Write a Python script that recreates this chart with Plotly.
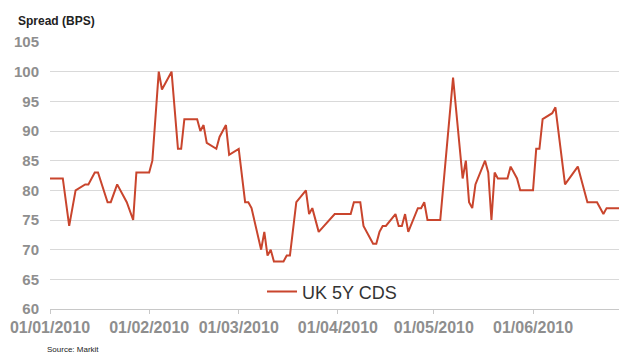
import plotly.graph_objects as go

dates = [
    "2010-01-01", "2010-01-05", "2010-01-07", "2010-01-09", "2010-01-12", "2010-01-13",
    "2010-01-15", "2010-01-16", "2010-01-19", "2010-01-20", "2010-01-22", "2010-01-25",
    "2010-01-27", "2010-01-28", "2010-02-01", "2010-02-02", "2010-02-04", "2010-02-05",
    "2010-02-08", "2010-02-10", "2010-02-11", "2010-02-12", "2010-02-16", "2010-02-17",
    "2010-02-18", "2010-02-19", "2010-02-22", "2010-02-23", "2010-02-25", "2010-02-26",
    "2010-03-01", "2010-03-03", "2010-03-04", "2010-03-05", "2010-03-08", "2010-03-09",
    "2010-03-10", "2010-03-11", "2010-03-12", "2010-03-15", "2010-03-16", "2010-03-17",
    "2010-03-19", "2010-03-22", "2010-03-23", "2010-03-24", "2010-03-26", "2010-03-31",
    "2010-04-05", "2010-04-06", "2010-04-08", "2010-04-09", "2010-04-12", "2010-04-13",
    "2010-04-14", "2010-04-15", "2010-04-16", "2010-04-19", "2010-04-20", "2010-04-21",
    "2010-04-22", "2010-04-23", "2010-04-26", "2010-04-27", "2010-04-28", "2010-04-29",
    "2010-05-03", "2010-05-07", "2010-05-10", "2010-05-11", "2010-05-12", "2010-05-13",
    "2010-05-14", "2010-05-17", "2010-05-18", "2010-05-19", "2010-05-20", "2010-05-21",
    "2010-05-24", "2010-05-25", "2010-05-27", "2010-05-28", "2010-06-01", "2010-06-02",
    "2010-06-03", "2010-06-04", "2010-06-07", "2010-06-08", "2010-06-11", "2010-06-15",
    "2010-06-18", "2010-06-21", "2010-06-23", "2010-06-24", "2010-06-28",
]
spread = [
    82, 82, 74, 80, 81, 81,
    83, 83, 78, 78, 81, 78,
    75, 83, 83, 85, 100, 97,
    100, 87, 87, 92, 92, 90,
    91, 88, 87, 89, 91, 86,
    87, 78, 78, 77, 70, 73,
    69, 70, 68, 68, 69, 69,
    78, 80, 76, 77, 73, 76,
    76, 78, 78, 74, 71, 71,
    73, 74, 74, 76, 74, 74,
    76, 73, 77, 77, 78, 75,
    75, 99, 82, 85, 78, 77,
    81, 85, 83, 75, 83, 82,
    82, 84, 82, 80, 80, 87,
    87, 92, 93, 94, 81, 84,
    78, 78, 76, 77, 77,
]
tick_dates = ["2010-01-01", "2010-02-01", "2010-03-01", "2010-04-01", "2010-05-01", "2010-06-01"]
tick_labels = ["01/01/2010", "01/02/2010", "01/03/2010", "01/04/2010", "01/05/2010", "01/06/2010"]
y_ticks = [60, 65, 70, 75, 80, 85, 90, 95, 100, 105]

FONT = "Liberation Sans, Arial, sans-serif"
RED = "#C9452D"

fig = go.Figure()
fig.add_trace(go.Scatter(
    x=dates, y=spread, mode="lines", name="UK 5Y CDS",
    line=dict(color=RED, width=2),
))

fig.update_layout(
    width=619, height=354,
    margin=dict(l=50, r=0, t=42, b=45),
    paper_bgcolor="white", plot_bgcolor="white",
    font=dict(family=FONT),
    showlegend=True,
    legend=dict(
        x=0.3726, y=0.064, xanchor="left", yanchor="middle",
        bgcolor="rgba(0,0,0,0)", font=dict(size=18, color="#333333", family=FONT),
        itemwidth=30,
    ),
    xaxis=dict(
        type="date",
        range=["2010-01-01", "2010-06-27 21:00"],
        tickvals=tick_dates, ticktext=tick_labels,
        tickfont=dict(size=16, color="#8e8e8e", family=FONT, weight="bold"),
        showgrid=False, showline=True, linecolor="#c8c8c8", linewidth=1,
        ticks="outside", ticklen=4, tickcolor="#c8c8c8",
        zeroline=False,
    ),
    yaxis=dict(
        range=[60, 105],
        tickvals=y_ticks,
        tickfont=dict(size=15, color="#8e8e8e", family=FONT, weight="bold"),
        showgrid=True, gridcolor="#d9d9d9", gridwidth=1,
        showline=False, zeroline=False, ticks="", ticklabelstandoff=10,
    ),
    annotations=[
        dict(text="Spread (BPS)", xref="paper", yref="paper", x=-0.0598, y=1.0787,
             xanchor="left", yanchor="middle", showarrow=False,
             font=dict(size=12, color="#222222", family=FONT, weight="bold")),
        dict(text="Source: Markit", xref="paper", yref="paper", x=-0.0088, y=-0.15,
             xanchor="left", yanchor="middle", showarrow=False,
             font=dict(size=8, color="#222222", family=FONT)),
    ],
)

fig.write_html("out.html")
